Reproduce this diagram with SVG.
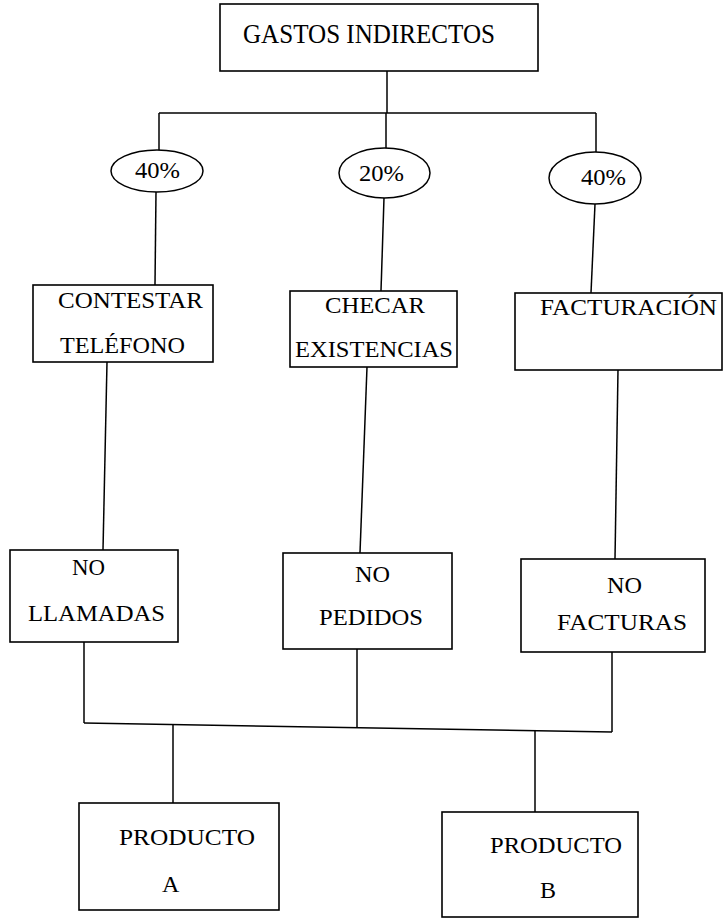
<svg xmlns="http://www.w3.org/2000/svg" width="723" height="919" viewBox="0 0 723 919">
<style>
.box{fill:#fff;stroke:#000;stroke-width:1.6}
.ell{fill:#fff;stroke:#000;stroke-width:1.5}
.ln{fill:none;stroke:#000;stroke-width:1.5}
text{font-family:"Liberation Serif","Times New Roman",serif;font-size:24px;fill:#000}
</style>
<rect width="723" height="919" fill="#fff"/>
<g id="connectors">
<line class="ln" x1="387" y1="71" x2="387" y2="113"/>
<line class="ln" x1="159" y1="113" x2="596" y2="113"/>
<line class="ln" x1="159" y1="113" x2="159" y2="150"/>
<line class="ln" x1="386" y1="113" x2="386" y2="148"/>
<line class="ln" x1="596" y1="113" x2="596" y2="152"/>
<line class="ln" x1="156" y1="192" x2="155" y2="285"/>
<line class="ln" x1="384" y1="198" x2="381" y2="291"/>
<line class="ln" x1="595" y1="204" x2="591" y2="293"/>
<line class="ln" x1="107" y1="362" x2="103" y2="550"/>
<line class="ln" x1="367" y1="367" x2="360" y2="553"/>
<line class="ln" x1="618" y1="370" x2="615" y2="559"/>
<line class="ln" x1="84" y1="642" x2="84" y2="723"/>
<line class="ln" x1="357" y1="649" x2="357" y2="728"/>
<line class="ln" x1="612" y1="652" x2="612" y2="732"/>
<line class="ln" x1="84" y1="723" x2="612" y2="732"/>
<line class="ln" x1="173" y1="725" x2="173" y2="803"/>
<line class="ln" x1="535" y1="731" x2="535" y2="812"/>
</g>
<g id="gastos">
<rect class="box" x="220" y="4" width="318" height="67"/>
<text x="243" y="43" style="font-size:27px" textLength="252" lengthAdjust="spacingAndGlyphs">GASTOS INDIRECTOS</text>
</g>
<g id="pct1">
<ellipse class="ell" cx="157" cy="171" rx="46" ry="21"/>
<text x="135" y="178" textLength="45" lengthAdjust="spacingAndGlyphs">40%</text>
</g>
<g id="pct2">
<ellipse class="ell" cx="384.5" cy="173" rx="45.5" ry="25"/>
<text x="359" y="181" textLength="45" lengthAdjust="spacingAndGlyphs">20%</text>
</g>
<g id="pct3">
<ellipse class="ell" cx="595" cy="178" rx="46" ry="26"/>
<text x="581" y="185" textLength="45" lengthAdjust="spacingAndGlyphs">40%</text>
</g>
<g id="contestar">
<rect class="box" x="33" y="285" width="180" height="77"/>
<text x="58" y="308" textLength="145" lengthAdjust="spacingAndGlyphs">CONTESTAR</text>
<text x="60" y="353" textLength="125" lengthAdjust="spacingAndGlyphs">TELÉFONO</text>
</g>
<g id="checar">
<rect class="box" x="290" y="291" width="167" height="76"/>
<text x="325" y="313" textLength="100" lengthAdjust="spacingAndGlyphs">CHECAR</text>
<text x="295" y="357" textLength="158" lengthAdjust="spacingAndGlyphs">EXISTENCIAS</text>
</g>
<g id="facturacion">
<rect class="box" x="515" y="293" width="207" height="77"/>
<text x="540" y="315" textLength="177" lengthAdjust="spacingAndGlyphs">FACTURACIÓN</text>
</g>
<g id="llamadas">
<rect class="box" x="10" y="550" width="168" height="92"/>
<text x="72" y="575" textLength="33" lengthAdjust="spacingAndGlyphs">NO</text>
<text x="28" y="621" textLength="137" lengthAdjust="spacingAndGlyphs">LLAMADAS</text>
</g>
<g id="pedidos">
<rect class="box" x="283" y="553" width="169" height="96"/>
<text x="355" y="582" textLength="35" lengthAdjust="spacingAndGlyphs">NO</text>
<text x="319" y="625" textLength="104" lengthAdjust="spacingAndGlyphs">PEDIDOS</text>
</g>
<g id="facturas">
<rect class="box" x="521" y="559" width="184" height="93"/>
<text x="607" y="593" textLength="35" lengthAdjust="spacingAndGlyphs">NO</text>
<text x="557" y="630" textLength="130" lengthAdjust="spacingAndGlyphs">FACTURAS</text>
</g>
<g id="productoA">
<rect class="box" x="79" y="803" width="200" height="107"/>
<text x="119" y="845" textLength="136" lengthAdjust="spacingAndGlyphs">PRODUCTO</text>
<text x="162" y="892">A</text>
</g>
<g id="productoB">
<rect class="box" x="442" y="812" width="196" height="105"/>
<text x="490" y="853" textLength="132" lengthAdjust="spacingAndGlyphs">PRODUCTO</text>
<text x="540" y="898">B</text>
</g>
</svg>
